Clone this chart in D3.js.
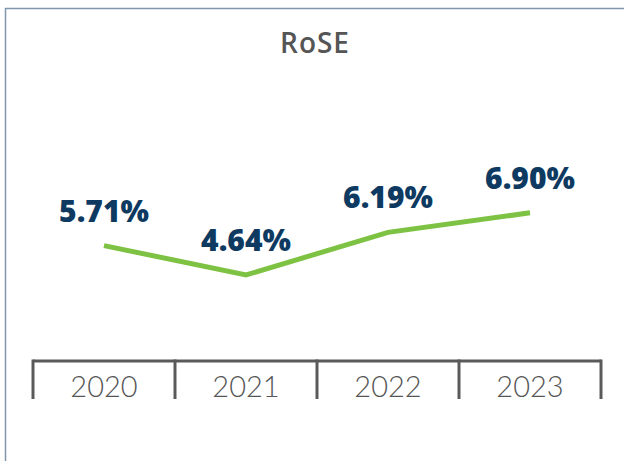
<!DOCTYPE html>
<html>
<head>
<meta charset="utf-8">
<script src="https://cdn.jsdelivr.net/npm/d3@7"></script>
<style>
  body { margin: 0; background: #fff; }
  svg { display: block; }
</style>
</head>
<body>
<div id="chart"></div>
<script>
var width = 624,
    height = 461;

var years = ["2020", "2021", "2022", "2023"];
var rose = [5.71, 4.64, 6.19, 6.90];
var roseLabels = ["5.71%", "4.64%", "6.19%", "6.90%"];

var svg = d3.select("#chart").append("svg")
    .attr("width", width)
    .attr("height", height);

// frame (runs off the right and bottom edge)
svg.append("rect")
    .attr("x", 5.5)
    .attr("y", 8.5)
    .attr("width", 700)
    .attr("height", 600)
    .attr("fill", "none")
    .attr("stroke", "#7f97ad")
    .attr("stroke-width", 1.5);

svg.append("text")
    .attr("x", 315)
    .attr("y", 53)
    .attr("text-anchor", "middle")
    .attr("fill", "#555")
    .style("font-family", "'Open Sans', sans-serif")
    .style("font-size", "28px")
    .style("font-weight", 600)
    .style("letter-spacing", "1px")
    .text("RoSE");

var x = d3.scaleBand()
    .domain(years)
    .range([33, 601]);

var y = d3.scaleLinear()
    .domain([0, 10])
    .range([402.6, 127.6]);

// axis: top line plus ticks at band boundaries
var axisY = 361;
var axisG = svg.append("g").attr("class", "x-axis");

axisG.append("line")
    .attr("x1", x.range()[0])
    .attr("x2", x.range()[1])
    .attr("y1", axisY)
    .attr("y2", axisY)
    .attr("stroke", "#5a5a5a")
    .attr("stroke-width", 3);

var bounds = years.map(function(d) { return x(d); }).concat([x.range()[1]]);

axisG.selectAll(".tick-line")
    .data(bounds)
    .enter().append("line")
    .attr("class", "tick-line")
    .attr("x1", function(d) { return d; })
    .attr("x2", function(d) { return d; })
    .attr("y1", axisY - 1.5)
    .attr("y2", 399)
    .attr("stroke", "#5a5a5a")
    .attr("stroke-width", 3);

axisG.selectAll(".tick-label")
    .data(years)
    .enter().append("text")
    .attr("class", "tick-label")
    .attr("x", function(d) { return x(d) + x.bandwidth() / 2; })
    .attr("y", 397)
    .attr("text-anchor", "middle")
    .attr("fill", "#555")
    .style("font-family", "Lato, sans-serif")
    .style("font-size", "29px")
    .style("font-weight", 300)
    .text(function(d) { return d; });

var line = d3.line()
    .x(function(d, i) { return x(years[i]) + x.bandwidth() / 2; })
    .y(function(d) { return y(d); });

svg.append("path")
    .datum(rose)
    .attr("d", line)
    .attr("fill", "none")
    .attr("stroke", "#7dc242")
    .attr("stroke-width", 5);

svg.selectAll(".value-label")
    .data(rose)
    .enter().append("text")
    .attr("class", "value-label")
    .attr("x", function(d, i) { return x(years[i]) + x.bandwidth() / 2; })
    .attr("y", function(d) { return y(d) - 24; })
    .attr("text-anchor", "middle")
    .attr("fill", "#0e3a62")
    .style("font-family", "'Open Sans', sans-serif")
    .style("font-size", "30px")
    .style("font-weight", 800)
    .text(function(d, i) { return roseLabels[i]; });
</script>
</body>
</html>
